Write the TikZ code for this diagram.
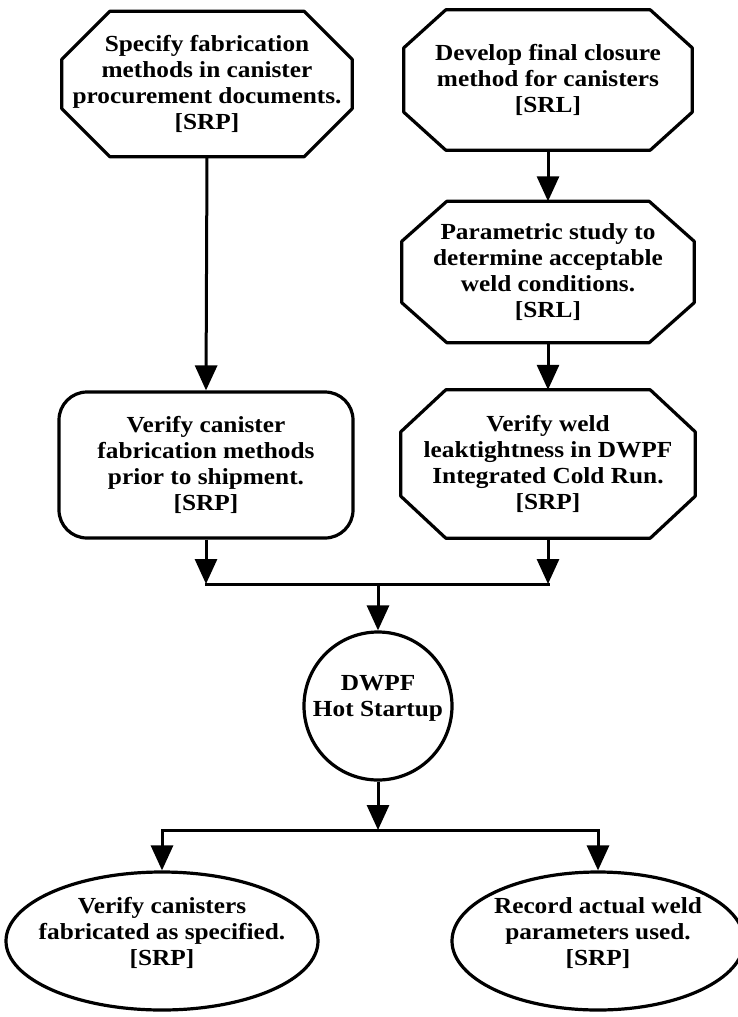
\documentclass[tikz,border=0pt]{standalone}
\usepackage{fontspec}
\setmainfont{Liberation Serif}[FakeStretch=1.1]
\usetikzlibrary{arrows.meta,calc,shapes.geometric}

\tikzset{
  outline/.style={draw=black, line width=3.2pt, line join=round},
  lbl/.style={font=\fontsize{23}{26}\selectfont\bfseries, align=center, inner sep=0pt},
  conn/.style={line width=3pt, -{Triangle[width=22pt,length=25pt]}},
  wire/.style={line width=3pt},
}

% octagonal step: name, centre, width, height, corner cut x, corner cut y, text
\newcommand\octnode[7]{%
  \node[lbl, minimum width=#3pt, minimum height=#4pt] (#1) at #2 {#7};
  \draw[outline]
    ($(#1.north west)+(#5,0)$) -- ($(#1.north east)+(-#5,0)$) --
    ($(#1.north east)+(0,#6)$) -- ($(#1.south east)+(0,-#6)$) --
    ($(#1.south east)+(-#5,0)$) -- ($(#1.south west)+(#5,0)$) --
    ($(#1.south west)+(0,-#6)$) -- ($(#1.north west)+(0,#6)$) -- cycle;
}

\begin{document}
\begin{tikzpicture}[x=1pt,y=-1pt]
  \fill[white] (0,0) rectangle (738,1017);
  \useasboundingbox (0,0) rectangle (738,1017);

  % left column
  \octnode{spec}{(207,84)}{290}{145}{48}{48}{Specify fabrication\\methods in canister\\procurement documents.\\{[}SRP{]}}
  \node[lbl, outline, rectangle, rounded corners=28pt, minimum width=294pt, minimum height=146pt]
    (vcan) at (206,465) {Verify canister\\fabrication methods\\prior to shipment.\\{[}SRP{]}};

  % right column
  \octnode{devel}{(548,80)}{288}{140}{42}{38}{Develop final closure\\method for canisters\\{[}SRL{]}}
  \octnode{param}{(548,272)}{292}{141}{45}{40}{Parametric study to\\determine acceptable\\weld conditions.\\{[}SRL{]}}
  \octnode{vweld}{(548,464)}{294}{148}{45}{42}{Verify weld\\leaktightness in DWPF\\Integrated Cold Run.\\{[}SRP{]}}

  % startup
  \node[outline, circle, minimum size=148pt] (hot) at (378,706) {};
  \node[lbl] (hottext) at ($(hot)+(0,-8)$) {DWPF\\Hot Startup};

  % final records
  \node[outline, ellipse, minimum width=312pt, minimum height=138pt] (vfab) at (162,941) {};
  \node[lbl] (vfabtext) at ($(vfab)+(0,-8)$) {Verify canisters\\fabricated as specified.\\{[}SRP{]}};
  \node[outline, ellipse, minimum width=292pt, minimum height=138pt] (rec) at (598,941) {};
  \node[lbl] (rectext) at ($(rec)+(0,-8)$) {Record actual weld\\parameters used.\\{[}SRP{]}};

  % junction points
  \coordinate (jl) at (vcan.south |- 0,584);
  \coordinate (jr) at (vweld.south |- 0,584);
  \coordinate (jm) at (hot.north |- 0,584);
  \coordinate (bm) at (hot.south |- 0,830);
  \coordinate (bl) at (vfab.north |- 0,830);
  \coordinate (br) at (rec.north |- 0,830);

  % connectors
  \draw[conn] (spec.south) -- (vcan.north);
  \draw[conn] (devel.south) -- (param.north);
  \draw[conn] (param.south) -- (vweld.north);
  \draw[conn] (vcan.south) -- (jl);
  \draw[conn] (vweld.south) -- (jr);
  \draw[wire, line cap=rect] (jl) -- (jr);
  \draw[conn] (jm) -- (hot.north);
  \draw[conn] (hot.south) -- (bm);
  \draw[wire, line cap=rect] (bl) -- (br);
  \draw[conn] (bl) -- (vfab.north);
  \draw[conn] (br) -- (rec.north);
\end{tikzpicture}
\end{document}
